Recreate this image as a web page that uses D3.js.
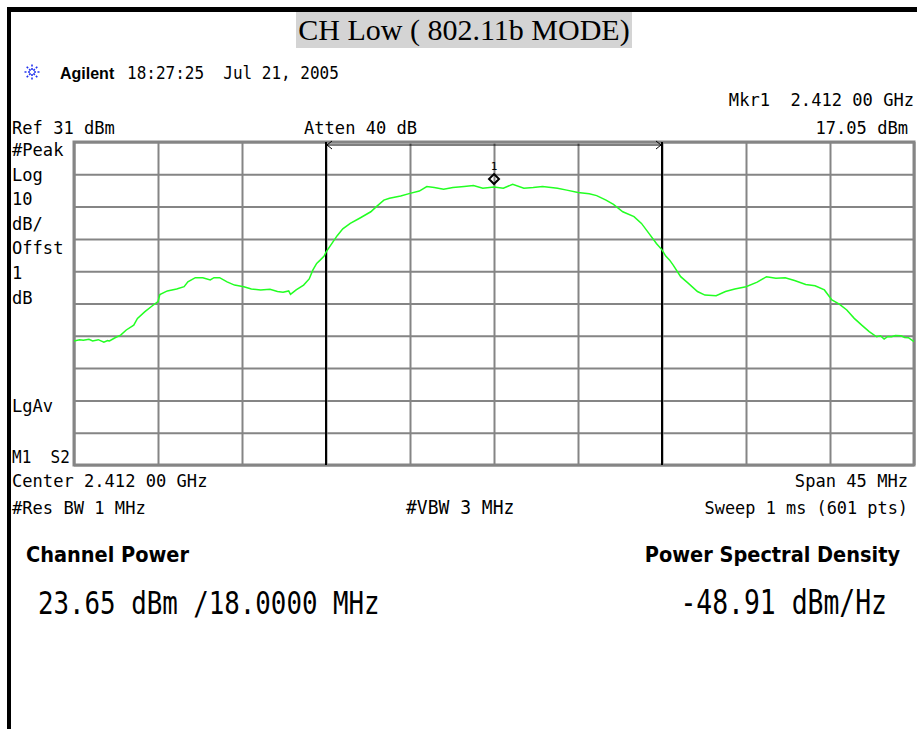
<!DOCTYPE html>
<html>
<head>
<meta charset="utf-8">
<script src="https://cdn.jsdelivr.net/npm/d3@7"></script>
<style>
  body { margin: 0; background: #fff; }
  text { white-space: pre; }
</style>
</head>
<body>
<div id="chart"></div>
<script>
// Parameters
const width = 917;
const height = 729;
const plot = { left: 74, right: 914, top: 142, bottom: 465 };
const mono = "'DejaVu Sans Mono', monospace";

// trace readings: offset from 2.412 GHz (MHz) and level (dBm)
const freqOffsets = [
  -22.5, -22.2, -22.0, -21.7, -21.5, -21.2, -20.9, -20.7, -20.6, -20.3,
  -20.0, -19.7, -19.3, -19.1, -18.7, -18.3, -18.0, -17.9, -17.5, -17.0,
  -16.6, -16.4, -16.0, -15.6, -15.2, -15.0, -14.7, -14.3, -13.9, -13.4,
  -13.0, -12.5, -12.0, -11.6, -11.3, -11.0, -10.9, -10.6, -10.2, -9.9,
  -9.7, -9.5, -9.3, -9.1, -9.0, -8.8, -8.4, -8.1, -7.7, -7.2,
  -6.6, -6.3, -5.9, -5.6, -5.0, -4.5, -4.0, -3.6, -3.2, -2.7,
  -2.2, -1.6, -1.1, -0.6, 0.0, 0.5, 1.0, 1.6, 2.1, 2.6,
  3.4, 3.9, 4.5, 5.1, 5.5, 6.0, 6.4, 6.9, 7.5, 7.9,
  8.3, 8.7, 9.0, 9.2, 9.4, 9.6, 10.0, 10.4, 10.9, 11.3,
  11.9, 12.4, 12.9, 13.5, 14.1, 14.6, 15.1, 15.6, 16.1, 16.7,
  17.2, 17.7, 18.1, 18.5, 18.9, 19.3, 19.7, 20.1, 20.5, 20.7,
  20.9, 21.1, 21.3, 21.5, 21.8, 22.0, 22.2, 22.5
];
const levels = [
  -30.6, -30.2, -30.4, -30.1, -30.6, -30.2, -31.0, -30.5, -30.6, -29.6,
  -28.8, -27.2, -25.7, -23.6, -21.5, -19.7, -18.4, -16.2, -15.1, -14.5,
  -13.8, -12.3, -11.0, -11.0, -11.7, -11.0, -11.0, -12.3, -13.3, -13.8,
  -14.5, -14.8, -14.6, -15.3, -15.5, -15.1, -16.2, -14.8, -13.3, -11.4,
  -8.6, -6.6, -5.5, -4.3, -3.1, -1.4, 2.0, 4.1, 5.8, 7.4,
  9.4, 11.0, 13.0, 13.6, 14.3, 15.1, 15.8, 17.2, 16.9, 16.4,
  16.9, 17.2, 17.5, 16.7, 17.05, 16.7, 17.9, 16.7, 16.9, 17.2,
  16.7, 16.1, 15.4, 15.0, 14.4, 13.0, 11.7, 9.4, 7.9, 5.8,
  2.7, -0.4, -2.4, -4.3, -5.5, -7.1, -10.7, -12.7, -15.3, -16.4,
  -16.6, -15.3, -14.5, -13.8, -12.4, -10.7, -11.2, -11.0, -11.9, -13.1,
  -13.5, -14.8, -17.9, -19.2, -21.0, -23.6, -25.7, -27.7, -29.3, -29.0,
  -30.0, -29.2, -29.3, -28.9, -29.0, -29.5, -29.6, -30.8
];

const refLevel = 31;        // dBm at top line
const dbPerDiv = 10;
const divisions = 10;
const spanMHz = 45;
const channelMHz = 18;
const markerOffset = 0;
const markerLevel = 17.05;

const leftLabels = ['#Peak', 'Log', '10', 'dB/', 'Offst', '1', 'dB'];

const svg = d3.select('#chart')
  .append('svg')
  .attr('width', width)
  .attr('height', height);

// Scales
const x = d3.scaleLinear()
  .domain([-spanMHz / 2, spanMHz / 2])
  .range([plot.left, plot.right]);
const y = d3.scaleLinear()
  .domain([refLevel - dbPerDiv * divisions, refLevel])
  .range([plot.bottom, plot.top]);

// outer frame (top and left edges only)
svg.append('rect').attr('x', 7).attr('y', 7).attr('width', width - 7).attr('height', 5).attr('fill', '#000');
svg.append('rect').attr('x', 7).attr('y', 7).attr('width', 4).attr('height', height - 7).attr('fill', '#000');

// title
svg.append('rect').attr('x', 296).attr('y', 12).attr('width', 336).attr('height', 36).attr('fill', '#d4d4d4');
svg.append('text')
  .attr('x', 464).attr('y', 40)
  .attr('text-anchor', 'middle')
  .style('font', "30px 'Liberation Serif', 'Times New Roman', serif")
  .text('CH Low ( 802.11b MODE)');

// agilent spark logo
const logo = svg.append('g').attr('transform', 'translate(32,72)')
  .attr('stroke', '#2233ee').attr('stroke-width', 1.6).attr('stroke-dasharray', '2,1.5');
d3.range(8).forEach(i => {
  const a = i * Math.PI / 4;
  logo.append('line')
    .attr('x1', Math.cos(a) * 2).attr('y1', Math.sin(a) * 2)
    .attr('x2', Math.cos(a) * 9).attr('y2', Math.sin(a) * 9);
});

svg.append('text').attr('x', 60).attr('y', 79)
  .style('font', "bold 16px 'Liberation Sans', Arial, sans-serif")
  .text('Agilent');

// instrument-style text helper (mono, slightly stretched vertically)
function monoText(txt, px, py, anchor, size, stretch) {
  return svg.append('text')
    .attr('transform', `translate(${px},${py}) scale(1,${stretch || 1.08})`)
    .attr('text-anchor', anchor || 'start')
    .style('font', `${size || 17.1}px ${mono}`)
    .text(txt);
}
monoText('18:27:25  Jul 21, 2005', 127, 79, 'start', 16);

// header lines
monoText('Mkr1  2.412 00 GHz', 914, 106, 'end');
monoText('Ref 31 dBm', 12, 134);
monoText('Atten 40 dB', 304, 134);
monoText(markerLevel.toFixed(2) + ' dBm', 908, 134, 'end');

// left side labels
leftLabels.forEach((l, i) => monoText(l, 12, 156 + i * 24.6));
monoText('LgAv', 12, 412);
monoText('M1  S2', 12, 463, 'start', 16);

// grid
const grid = svg.append('g');
grid.append('g')
  .attr('transform', `translate(0,${plot.bottom})`)
  .call(d3.axisBottom(x).tickValues(d3.range(divisions + 1).map(i => -spanMHz / 2 + i * spanMHz / divisions))
    .tickSize(-(plot.bottom - plot.top)).tickFormat(''))
  .call(g => g.select('.domain').remove());
grid.append('g')
  .attr('transform', `translate(${plot.left},0)`)
  .call(d3.axisLeft(y).tickValues(d3.range(divisions + 1).map(i => refLevel - i * dbPerDiv))
    .tickSize(-(plot.right - plot.left)).tickFormat(''))
  .call(g => g.select('.domain').remove());
grid.selectAll('.tick line').attr('stroke', '#858585').attr('stroke-width', 2);
grid.append('rect')
  .attr('x', plot.left).attr('y', plot.top)
  .attr('width', plot.right - plot.left).attr('height', plot.bottom - plot.top)
  .attr('fill', 'none').attr('stroke', '#858585').attr('stroke-width', 3);

// channel edges
[-channelMHz / 2, channelMHz / 2].forEach(f => {
  svg.append('line')
    .attr('x1', x(f)).attr('x2', x(f))
    .attr('y1', plot.top).attr('y2', plot.bottom)
    .attr('stroke', '#000').attr('stroke-width', 2);
});
const ay = plot.top + 3;
svg.append('line')
  .attr('x1', x(-channelMHz / 2)).attr('x2', x(channelMHz / 2))
  .attr('y1', ay).attr('y2', ay)
  .attr('stroke', '#000').attr('stroke-width', 1.2);
svg.append('path')
  .attr('d', `M${x(-channelMHz / 2) + 6},${ay - 4} L${x(-channelMHz / 2) + 1},${ay} L${x(-channelMHz / 2) + 6},${ay + 4}`)
  .attr('fill', 'none').attr('stroke', '#000').attr('stroke-width', 1);
svg.append('path')
  .attr('d', `M${x(channelMHz / 2) - 6},${ay - 4} L${x(channelMHz / 2) - 1},${ay} L${x(channelMHz / 2) - 6},${ay + 4}`)
  .attr('fill', 'none').attr('stroke', '#000').attr('stroke-width', 1);

// trace
const trace = freqOffsets.map((f, i) => ({ f: f, v: levels[i] }));
svg.append('path')
  .datum(trace)
  .attr('fill', 'none')
  .attr('stroke', '#22ff22')
  .attr('stroke-width', 1.5)
  .attr('d', d3.line().x(d => x(d.f)).y(d => y(d.v)));

// marker
const mx = x(markerOffset), my = y(markerLevel) - 8;
svg.append('path')
  .attr('d', `M${mx},${my - 5} L${mx + 5},${my} L${mx},${my + 5} L${mx - 5},${my} Z`)
  .attr('fill', 'none').attr('stroke', '#000').attr('stroke-width', 2);
svg.append('text')
  .attr('x', mx).attr('y', my - 9)
  .attr('text-anchor', 'middle')
  .style('font', `11px ${mono}`)
  .text('1');

// bottom annotation lines
monoText('Center 2.412 00 GHz', 12, 487);
monoText('Span 45 MHz', 908, 487, 'end');
monoText('#Res BW 1 MHz', 12, 514, 'start', 17.1);
monoText('#VBW 3 MHz', 406, 514, 'start', 18);
monoText('Sweep 1 ms (601 pts)', 908, 514, 'end', 16.9);

// channel power readout
const cond = "bold 21.5px 'DejaVu Sans Condensed', 'DejaVu Sans', sans-serif";
svg.append('text').attr('x', 26).attr('y', 562).style('font', cond)
  .text('Channel Power');
svg.append('text').attr('x', 900).attr('y', 562).style('font', cond)
  .attr('text-anchor', 'end')
  .text('Power Spectral Density');

monoText('23.65 dBm /18.0000 MHz', 38, 614, 'start', 25.8, 1.25);
monoText('-48.91 dBm/Hz', 887, 614, 'end', 26.4, 1.25);
</script>
</body>
</html>
